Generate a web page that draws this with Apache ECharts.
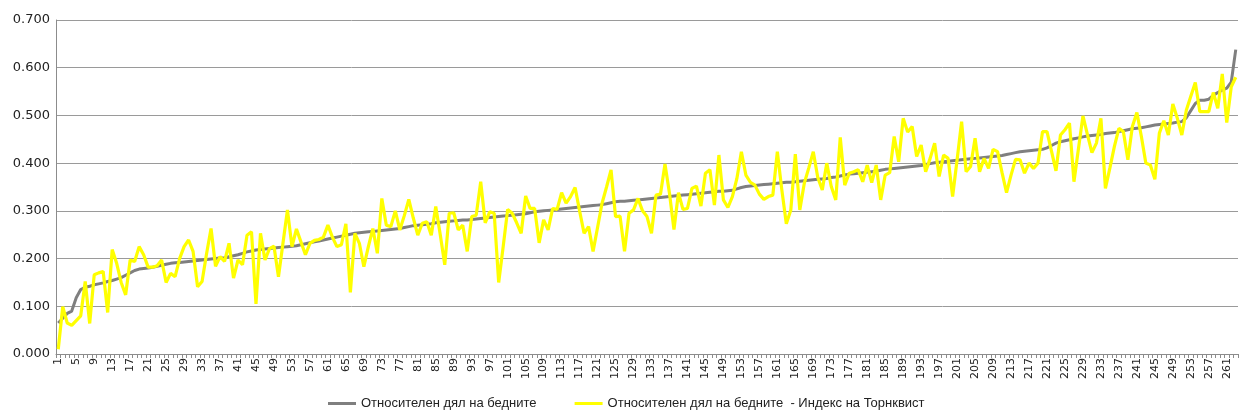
<!DOCTYPE html>
<html>
<head>
<meta charset="utf-8">
<script src="https://cdn.jsdelivr.net/npm/echarts@6/dist/echarts.min.js"></script>
<style>
html,body{margin:0;padding:0;background:#fff;}
#chart{width:1240px;height:415px;}
</style>
</head>
<body>
<div id="chart"></div>
<script>
const seriesNames = ["Относителен дял на бедните", "Относителен дял на бедните  - Индекс на Торнквист"];
const yTickLabels = ["0.000","0.100","0.200","0.300","0.400","0.500","0.600","0.700"];

const relativeShare = [
0.065,0.075,0.085,0.090,0.118,0.135,0.140,0.142,0.145,0.147,
0.149,0.152,0.154,0.157,0.160,0.165,0.170,0.175,0.178,0.179,
0.180,0.182,0.184,0.186,0.188,0.190,0.191,0.192,0.193,0.194,
0.195,0.196,0.197,0.198,0.199,0.200,0.201,0.202,0.204,0.206,
0.208,0.211,0.214,0.216,0.218,0.219,0.220,0.221,0.222,0.223,
0.224,0.225,0.226,0.227,0.229,0.231,0.233,0.235,0.237,0.239,
0.241,0.243,0.245,0.247,0.249,0.251,0.253,0.254,0.255,0.256,
0.257,0.258,0.259,0.260,0.261,0.262,0.263,0.265,0.267,0.269,
0.270,0.271,0.272,0.273,0.275,0.276,0.277,0.278,0.279,0.280,
0.281,0.281,0.282,0.283,0.284,0.285,0.286,0.287,0.288,0.289,
0.290,0.291,0.292,0.293,0.294,0.296,0.298,0.299,0.300,0.301,
0.302,0.303,0.304,0.305,0.306,0.307,0.308,0.309,0.310,0.311,
0.312,0.313,0.315,0.317,0.319,0.320,0.320,0.321,0.322,0.323,
0.324,0.325,0.326,0.327,0.328,0.329,0.330,0.331,0.332,0.333,
0.334,0.335,0.336,0.337,0.338,0.339,0.340,0.341,0.341,0.342,
0.343,0.346,0.349,0.351,0.352,0.353,0.354,0.355,0.356,0.357,
0.358,0.359,0.360,0.360,0.361,0.362,0.363,0.364,0.365,0.366,
0.367,0.368,0.370,0.371,0.373,0.375,0.377,0.378,0.379,0.380,
0.381,0.382,0.383,0.385,0.387,0.388,0.389,0.390,0.391,0.392,
0.393,0.394,0.395,0.397,0.399,0.401,0.402,0.403,0.404,0.405,
0.406,0.407,0.408,0.409,0.410,0.411,0.412,0.413,0.414,0.415,
0.416,0.418,0.420,0.422,0.424,0.425,0.426,0.427,0.428,0.429,
0.432,0.437,0.442,0.445,0.447,0.449,0.451,0.453,0.455,0.457,
0.458,0.459,0.460,0.462,0.463,0.464,0.466,0.468,0.470,0.472,
0.473,0.474,0.476,0.478,0.480,0.481,0.482,0.483,0.484,0.486,
0.487,0.495,0.510,0.525,0.532,0.532,0.534,0.542,0.548,0.553,
0.557,0.570,0.638
];

const tornqvistShare = [
0.010,0.099,0.065,0.060,0.070,0.080,0.152,0.064,0.166,0.170,
0.173,0.087,0.219,0.190,0.150,0.124,0.197,0.194,0.225,0.208,
0.182,0.182,0.185,0.197,0.150,0.169,0.162,0.200,0.225,0.239,
0.215,0.141,0.152,0.210,0.263,0.184,0.204,0.194,0.232,0.159,
0.197,0.187,0.249,0.256,0.105,0.253,0.197,0.221,0.226,0.162,
0.232,0.302,0.225,0.262,0.235,0.208,0.232,0.238,0.240,0.245,
0.270,0.245,0.225,0.229,0.273,0.129,0.253,0.232,0.183,0.225,
0.263,0.211,0.326,0.270,0.267,0.300,0.260,0.290,0.324,0.285,
0.249,0.274,0.277,0.249,0.309,0.250,0.187,0.295,0.296,0.260,
0.270,0.215,0.288,0.291,0.361,0.275,0.298,0.295,0.150,0.225,
0.303,0.295,0.275,0.253,0.331,0.305,0.305,0.233,0.281,0.260,
0.305,0.303,0.338,0.316,0.330,0.349,0.300,0.253,0.267,0.215,
0.265,0.316,0.350,0.386,0.288,0.289,0.215,0.295,0.302,0.326,
0.300,0.288,0.253,0.333,0.335,0.398,0.337,0.261,0.338,0.303,
0.305,0.347,0.352,0.310,0.379,0.386,0.312,0.417,0.323,0.307,
0.330,0.368,0.424,0.375,0.360,0.354,0.335,0.324,0.330,0.333,
0.424,0.344,0.273,0.302,0.419,0.302,0.358,0.390,0.424,0.370,
0.344,0.400,0.351,0.323,0.454,0.354,0.379,0.382,0.386,0.361,
0.396,0.359,0.396,0.323,0.375,0.380,0.456,0.403,0.494,0.465,
0.477,0.414,0.438,0.382,0.410,0.442,0.372,0.417,0.410,0.330,
0.407,0.487,0.382,0.393,0.452,0.382,0.410,0.389,0.429,0.424,
0.380,0.338,0.375,0.408,0.407,0.379,0.400,0.389,0.400,0.466,
0.466,0.425,0.384,0.459,0.470,0.484,0.361,0.430,0.499,0.460,
0.422,0.442,0.494,0.347,0.390,0.435,0.473,0.466,0.407,0.477,
0.506,0.456,0.400,0.396,0.366,0.463,0.489,0.459,0.524,0.494,
0.459,0.511,0.540,0.569,0.508,0.508,0.508,0.548,0.515,0.587,
0.485,0.560,0.580
];

const categories = relativeShare.map((_, i) => String(i + 1));

const chart = echarts.init(document.getElementById('chart'), null, {renderer: 'canvas'});
chart.setOption({
  animation: false,
  backgroundColor: '#ffffff',
  grid: {left: 56, right: 2, top: 20, bottom: 61, containLabel: false},
  legend: {
    top: 397,
    left: 328,
    padding: 0,
    icon: 'rect',
    itemWidth: 28,
    itemHeight: 3,
    itemGap: 38,
    textStyle: {fontFamily: 'Liberation Sans', fontSize: 13, color: '#222'},
    data: seriesNames
  },
  xAxis: {
    type: 'category',
    data: categories,
    boundaryGap: true,
    axisLine: {show: true, lineStyle: {color: '#8c8c8c', width: 1}},
    axisTick: {show: true, interval: 0, length: 4, lineStyle: {color: '#8c8c8c'}},
    axisLabel: {interval: 3, rotate: 90, fontSize: 11, margin: 4, color: '#222', fontFamily: 'DejaVu Sans'},
    splitLine: {show: false}
  },
  yAxis: {
    type: 'value',
    min: 0,
    max: 0.7,
    interval: 0.1,
    axisLine: {show: true, lineStyle: {color: '#8c8c8c', width: 1}},
    axisTick: {show: false},
    axisLabel: {
      fontSize: 13, color: '#222', fontFamily: 'DejaVu Sans', margin: 6,
      formatter: v => yTickLabels[Math.round(v * 10)]
    },
    splitLine: {show: true, lineStyle: {color: '#9a9a9a', width: 1}}
  },
  series: [
    {
      name: seriesNames[0],
      type: 'line',
      data: relativeShare,
      showSymbol: false,
      symbol: 'none',
      lineStyle: {color: '#7f7f7f', width: 3},
      itemStyle: {color: '#7f7f7f'},
      z: 2
    },
    {
      name: seriesNames[1],
      type: 'line',
      data: tornqvistShare,
      showSymbol: false,
      symbol: 'none',
      lineStyle: {color: '#ffff00', width: 3.2},
      itemStyle: {color: '#ffff00'},
      z: 3
    }
  ]
});
</script>
</body>
</html>
